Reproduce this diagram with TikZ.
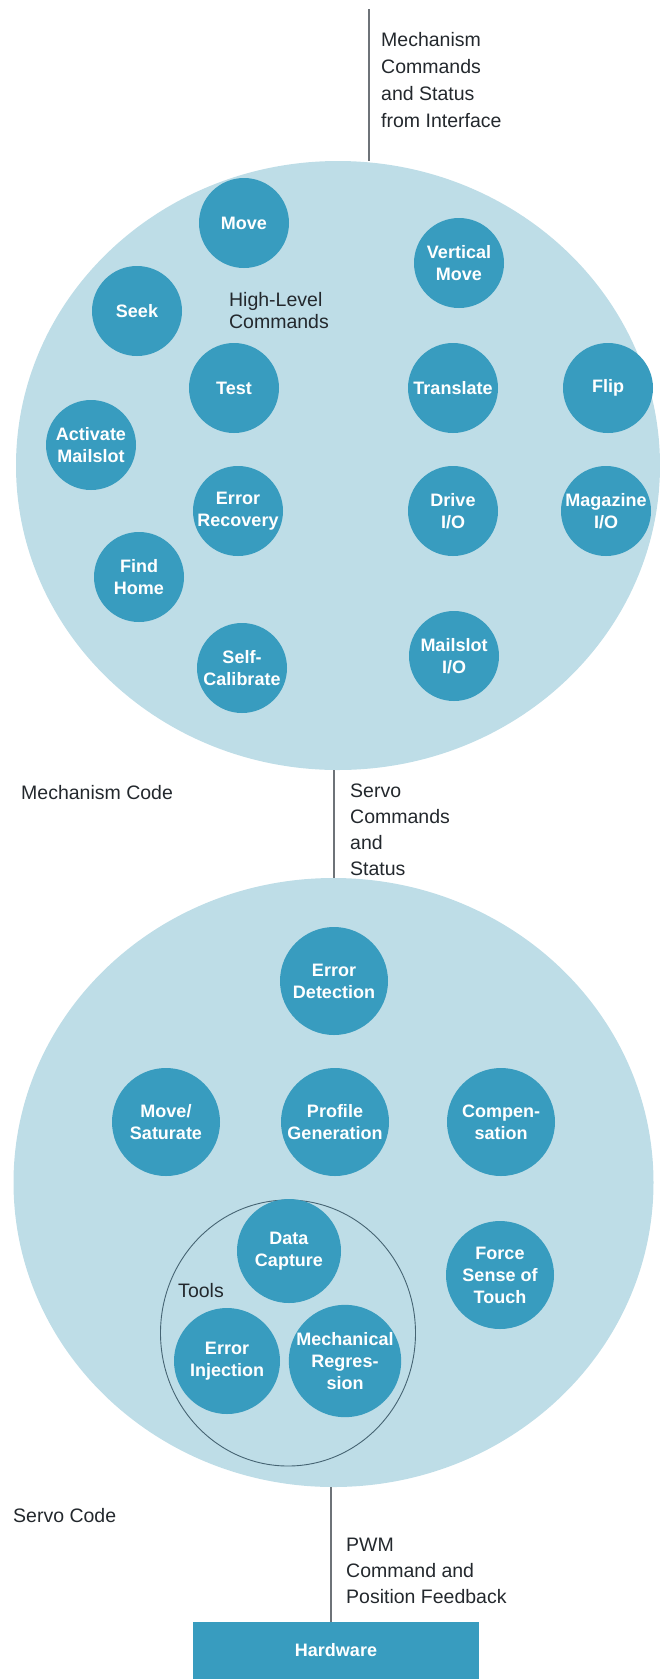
\documentclass[tikz,border=0pt]{standalone}
\usepackage{fontspec}
\setmainfont{Liberation Sans}
\usetikzlibrary{shapes.geometric}
\definecolor{bigc}{RGB}{190,221,231}
\definecolor{smallc}{RGB}{56,156,191}
\definecolor{txt}{RGB}{35,40,45}
\definecolor{linec}{RGB}{110,115,120}
\definecolor{toolc}{RGB}{70,100,115}
\begin{document}
\begin{tikzpicture}[x=1pt,y=-1pt,
  bigcircle/.style={ellipse, fill=bigc, draw=none, inner sep=0pt},
  sc/.style={circle, fill=smallc, text=white, inner sep=0pt, minimum size=90pt, align=center, font=\fontsize{18}{22}\selectfont\bfseries},
  sctwo/.style={sc, minimum size=108pt},
  lbl/.style={text=txt, inner sep=0pt, align=left, font=\fontsize{19.5}{27}\selectfont},
  conn/.style={draw=linec, line width=1.2pt}]
\useasboundingbox (0,0) rectangle (659,1679);

% big circles
\node[bigcircle, minimum width=644pt, minimum height=609pt] (m1) at (338,465.5) {};
\node[bigcircle, minimum width=640pt, minimum height=609pt] (s1) at (333.5,1182.5) {};

% connectors
\coordinate (topend) at (369,9);
\draw[conn] (topend) -- (topend |- m1.north);
\coordinate (midx) at (334,0);
\draw[conn] (midx |- m1.south) -- (midx |- s1.north);
\node[fill=smallc, text=white, inner sep=0pt, minimum width=286pt, minimum height=57pt, font=\fontsize{18}{22}\selectfont\bfseries] (hw) at (336,1650.5) {Hardware};
\coordinate (botx) at (331,0);
\draw[conn] (botx |- s1.south) -- (botx |- hw.north);

% labels
\node[lbl, anchor=west] (mechtxt) at (381,80) {Mechanism\\Commands\\and Status\\from Interface};
\node[lbl, font=\fontsize{19.5}{22}\selectfont] (hlc) at (279,311) {High-Level\\Commands};
\node[lbl, anchor=west] (mcode) at (21,793) {Mechanism Code};
\node[lbl, anchor=west, font=\fontsize{19.5}{26}\selectfont] (servotxt) at (350,830) {Servo\\Commands\\and\\Status};
\node[lbl] (tools) at (201,1291) {Tools};
\node[lbl, anchor=west] (scode) at (13,1516) {Servo Code};
\node[lbl, anchor=west, font=\fontsize{19.5}{26}\selectfont] (pwm) at (346,1571) {PWM\\Command and\\Position Feedback};

% mechanism code circles
\node[sc] (move) at (244,223) {Move};
\node[sc] (vmove) at (459,263) {Vertical\\Move};
\node[sc] (seek) at (137,311) {Seek};
\node[sc] (test) at (234,388) {Test};
\node[sc] (transl) at (453,388) {Translate};
\node[sc] (flip) at (608,388) {Flip};
\node[sc] (actm) at (91,445) {Activate\\Mailslot};
\node[sc] (errrec) at (238,511) {Error\\Recovery};
\node[sc] (drive) at (453,511) {Drive\\I/O};
\node[sc] (mag) at (606,511) {Magazine\\I/O};
\node[sc] (find) at (139,577) {Find\\Home};
\node[sc] (mailio) at (454,656) {Mailslot\\I/O};
\node[sc] (selfc) at (242,668) {Self-\\Calibrate};

% servo code circles
\node[sctwo] (errdet) at (334,981) {Error\\Detection};
\node[sctwo] (movesat) at (166,1122) {Move/\\Saturate};
\node[sctwo] (profile) at (335,1122) {Profile\\Generation};
\node[sctwo] (comp) at (501,1122) {Compen-\\sation};
\node[sctwo] (force) at (500,1275) {Force\\Sense of\\Touch};

% tools group
\draw[toolc, line width=0.9pt] (288,1333) ellipse [x radius=127.5, y radius=133];
\node[sc, minimum size=104pt] (datacap) at (289,1251) {Data\\Capture};
\node[sc, minimum size=106pt] (errinj) at (227,1361) {Error\\Injection};
\node[sc, minimum size=104pt] (mechreg) at (345,1361) {Mechanical\\Regres-\\sion};
\end{tikzpicture}
\end{document}
